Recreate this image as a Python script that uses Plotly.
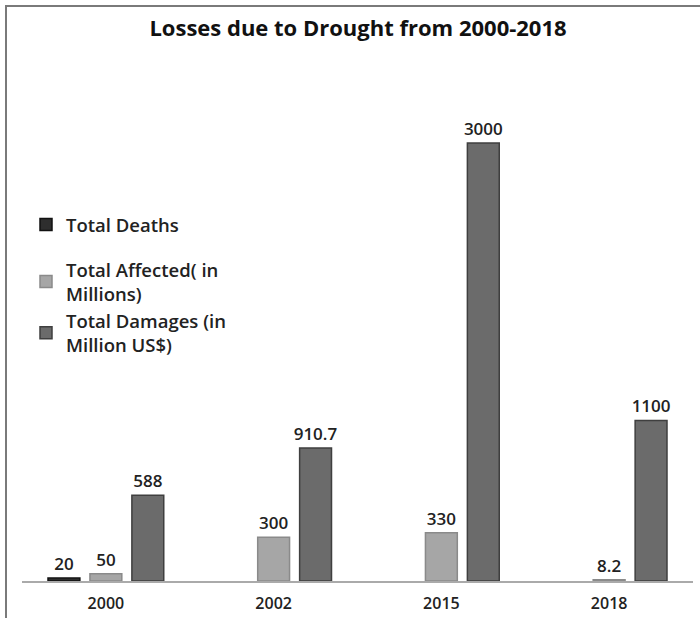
import plotly.graph_objects as go

years = ["2000", "2002", "2015", "2018"]
deaths = [20, None, None, None]
affected = [50, 300, 330, 8.2]
damages = [588, 910.7, 3000, 1100]

names = ["Total Deaths", "Total Affected( in<br>Millions)", "Total Damages (in<br>Million US$)"]
fills = ["#2e2e2e", "#a6a6a6", "#6b6b6b"]
lines = ["#111111", "#8a8a8a", "#3f3f3f"]
groups = ["a", "b", "b"]

L, R, T, B = 22, 7, 60, 37
W, H = 700, 618
pw, ph = W - L - R, H - T - B

def px(x):
    return (x - L) / pw

def py(y):
    return (H - B - y) / ph

fig = go.Figure()
for vals, name, fc, lc, g in zip([deaths, affected, damages], names, fills, lines, groups):
    fig.add_trace(go.Bar(
        x=years, y=vals, name=name, legendgroup=g,
        marker=dict(color=fc, line=dict(color=lc, width=1.5)),
        text=[None if v is None else f"{v:g}" for v in vals],
        textposition="outside", cliponaxis=False, constraintext="none",
        textfont=dict(size=17, color="#222222", family="Open Sans", weight=600),
    ))

fig.update_layout(
    width=W, height=H,
    margin=dict(l=L, r=R, t=T, b=B),
    paper_bgcolor="white", plot_bgcolor="white",
    barmode="group", bargap=0.25, bargroupgap=0.24,
    font=dict(family="Open Sans", color="#222222"),
    title=dict(text="<b>Losses due to Drought from 2000-2018</b>",
               x=px(358), xref="paper", xanchor="center",
               y=1 - 28 / H, yref="container", yanchor="middle",
               font=dict(size=22, family="Open Sans", color="#111111")),
    showlegend=True,
    legend=dict(x=px(26), y=py(206), xanchor="left", yanchor="top",
                traceorder="grouped", tracegroupgap=18,
                font=dict(size=18.5, family="Open Sans", color="#222222", weight=600),
                bgcolor="rgba(0,0,0,0)"),
    xaxis=dict(showline=True, linecolor="#aaaaaa", linewidth=1.5, automargin=False,
               ticks="", showgrid=False, zeroline=False, ticklabelstandoff=7,
               tickfont=dict(size=16, family="Open Sans", color="#222222", weight=600)),
    yaxis=dict(range=[0, 3000 * ph / 438], visible=False, showgrid=False, zeroline=False),
    shapes=[
        dict(type="line", xref="paper", yref="paper",
             x0=px(5), x1=px(700), y0=py(6), y1=py(6),
             line=dict(color="#7a7a7a", width=2)),
        dict(type="line", xref="paper", yref="paper",
             x0=px(6), x1=px(6), y0=py(6), y1=py(618),
             line=dict(color="#7a7a7a", width=2)),
    ],
)

fig.write_html("out.html")
